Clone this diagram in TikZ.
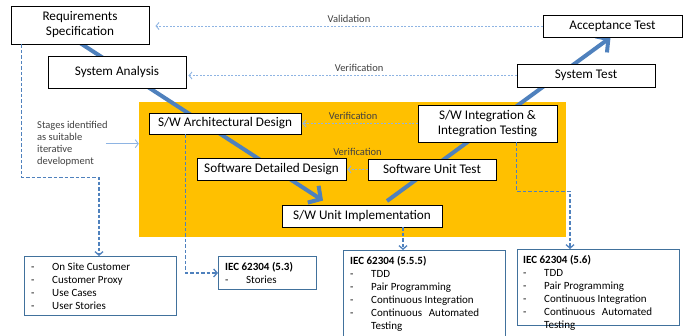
\documentclass[tikz,border=0pt]{standalone}
\usepackage{fontspec}
\setmainfont{Carlito}
\usetikzlibrary{arrows.meta}
\definecolor{vblue}{HTML}{4F81BD}
\definecolor{lblue}{HTML}{8EB4E3}
\definecolor{iterorange}{HTML}{FFC000}
\definecolor{listedge}{HTML}{41719C}
\definecolor{labelgray}{HTML}{404040}
\pgfdeclarelayer{bg}
\pgfdeclarelayer{mid}
\pgfsetlayers{bg,mid,main}
\tikzset{
  stage/.style={draw=black, line width=0.9pt, fill=white, align=center, inner sep=0pt,
    font=\fontsize{13.2}{15}\selectfont},
  listbox/.style={draw=listedge, line width=0.9pt, fill=white, anchor=north west, inner sep=0pt},
  listtext/.style={anchor=north west, inner sep=0pt, font=\fontsize{11}{13}\selectfont},
  vline/.style={vblue, line width=4pt, -{Straight Barb[length=9pt,width=20pt]}},
  verline/.style={lblue, line width=0.9pt, dash pattern=on 2pt off 1.5pt,
    -{Straight Barb[length=3pt,width=7pt]}},
  verlabel/.style={text=labelgray, inner sep=1pt, font=\fontsize{10.5}{12}\selectfont},
  linkline/.style={vblue, line width=1.3pt, dash pattern=on 3.5pt off 2pt,
    -{Straight Barb[length=3.5pt,width=8pt]}},
  notearrow/.style={lblue, line width=0.9pt, -{Straight Barb[length=3pt,width=8pt]}},
}
\begin{document}
\begin{tikzpicture}[x=1pt,y=-1pt]
\useasboundingbox (0,0) rectangle (687,335);

\begin{pgfonlayer}{bg}
\node[fill=iterorange, minimum width=427pt, minimum height=135pt, inner sep=0pt] (iter) at (352.5,169.5) {};
\end{pgfonlayer}

% V model stages
\node[stage, minimum width=138pt, minimum height=38pt] (req) at (80,25) {Requirements\\Specification};
\node[stage, minimum width=138pt, minimum height=32pt] (sysan) at (117,72) {System Analysis};
\node[stage, minimum width=139pt, minimum height=22pt] (acctest) at (612.5,26) {Acceptance Test};
\node[stage, minimum width=138pt, minimum height=23pt] (systest) at (586,75.5) {System Test};
\node[stage, minimum width=152pt, minimum height=21pt] (archdes) at (225,123.5) {S/W Architectural Design};
\node[stage, minimum width=139pt, minimum height=37pt] (integ) at (487.5,123.5) {S/W Integration \&\\Integration Testing};
\node[stage, minimum width=149pt, minimum height=22pt] (detdes) at (271.5,169) {Software Detailed Design};
\node[stage, minimum width=128pt, minimum height=21pt] (unittest) at (432,169.5) {Software Unit Test};
\node[stage, minimum width=160pt, minimum height=22pt] (unitimp) at (362,216) {S/W Unit Implementation};

\coordinate (vleft) at (60,30);
\coordinate (vright) at (387,201);
\begin{pgfonlayer}{mid}
\draw[vline] (vleft) -- ([xshift=-39pt,yshift=4pt]unitimp.north);
\draw[vline] (vright) -- ([xshift=-2pt]acctest.south);
\end{pgfonlayer}

\draw[verline] (acctest.west) -- ([xshift=6pt]req.east |- acctest.west) node[midway, above=2pt, verlabel] {Validation};
\draw[verline] (systest.west) -- ([xshift=2pt]sysan.east |- systest.west) node[pos=0.48, above=2pt, verlabel] {Verification};
\draw[verline] (integ.west) -- ([xshift=1pt]archdes.east |- integ.west) node[pos=0.56, above=2pt, verlabel] {Verification};
\draw[verline] (unittest.west) -- ([xshift=1pt]detdes.east |- unittest.west) node[midway, above=12pt, verlabel] {Verification};

\node[anchor=north west, align=left, inner sep=0pt, text=labelgray, font=\fontsize{10.5}{12}\selectfont] (stagenote) at (37,121)
  {Stages identified\\as suitable\\iterative\\development};
\draw[notearrow] ([xshift=-2pt]stagenote.east) -- (stagenote.east -| iter.west);

% practice boxes
\node[listbox, minimum width=152pt, minimum height=59pt] (onsite) at (24,256) {};
\node[listbox, minimum width=98pt, minimum height=33pt] (iecarch) at (218,256) {};
\node[listbox, minimum width=162pt, minimum height=95pt] (iecunit) at (343,250) {};
\node[listbox, minimum width=162pt, minimum height=76pt] (iecinteg) at (517,249) {};

\node[listtext] (onsitetxt) at ([shift={(7,5)}]onsite.north west) {\begin{tabular}{@{}p{21pt}@{}l@{}}
-&On Site Customer\\ -&Customer Proxy\\ -&Use Cases\\ -&User Stories\end{tabular}};
\node[listtext] (iecarchtxt) at ([shift={(7,5)}]iecarch.north west) {\begin{tabular}{@{}p{21pt}@{}l@{}}
\multicolumn{2}{@{}l@{}}{\bfseries IEC 62304 (5.3)}\\ -&Stories\end{tabular}};
\node[listtext] (iecunittxt) at ([shift={(7,5)}]iecunit.north west) {\begin{tabular}{@{}p{21pt}@{}p{108pt}@{}}
\multicolumn{2}{@{}l@{}}{\bfseries IEC 62304 (5.5.5)}\\ -&TDD\\ -&Pair Programming\\
-&Continuous Integration\\ -&Continuous Automated Testing\end{tabular}};
\node[listtext] (iecintegtxt) at ([shift={(6,5)}]iecinteg.north west) {\begin{tabular}{@{}p{21pt}@{}p{108pt}@{}}
\multicolumn{2}{@{}l@{}}{\bfseries IEC 62304 (5.6)}\\ -&TDD\\ -&Pair Programming\\
-&Continuous Integration\\ -&Continuous Automated Testing\end{tabular}};

\draw[linkline] ([xshift=11pt]req.south west) -- ++(0,133) -| ([xshift=75pt]onsite.north west);
\draw[linkline] ([xshift=37pt]archdes.south west) |- (iecarch.west);
\draw[linkline] ([xshift=41pt]unitimp.south) -- ([xshift=41pt]unitimp.south |- iecunit.north);
\draw[linkline] ([xshift=99pt]integ.south west) -- ++(0,49) -| ([xshift=53pt]iecinteg.north west);
\end{tikzpicture}
\end{document}
